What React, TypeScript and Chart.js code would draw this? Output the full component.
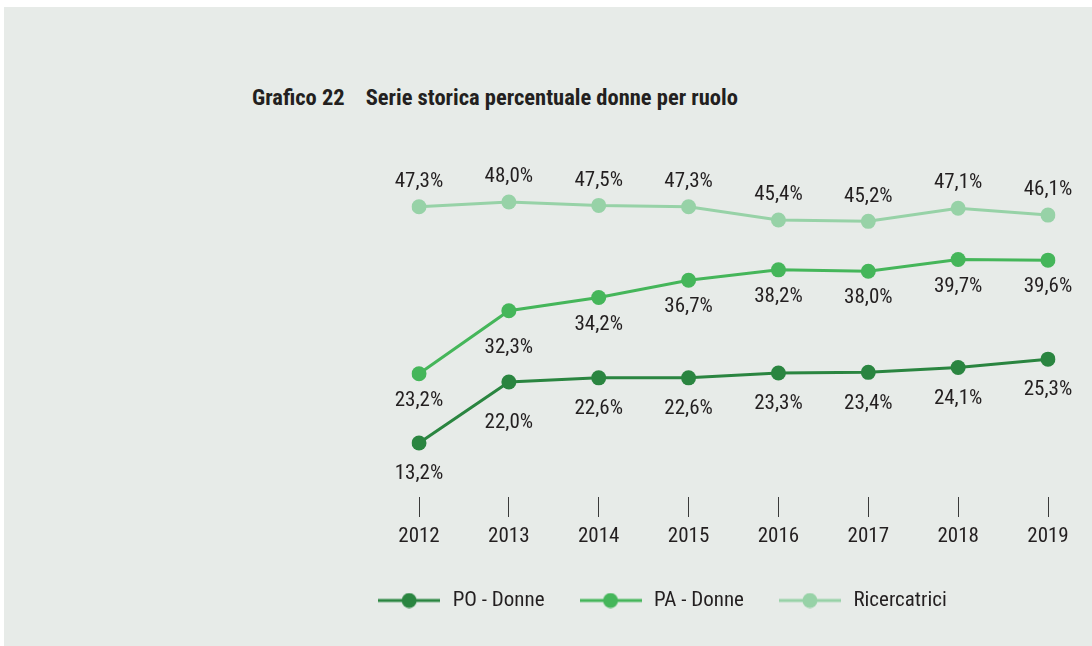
import React, { useEffect, useRef } from "react";
import { Chart, registerables } from "chart.js";

Chart.register(...registerables);

const years = ["2012", "2013", "2014", "2015", "2016", "2017", "2018", "2019"];
const poDonne = [13.2, 22.0, 22.6, 22.6, 23.3, 23.4, 24.1, 25.3];
const paDonne = [23.2, 32.3, 34.2, 36.7, 38.2, 38.0, 39.7, 39.6];
const ricercatrici = [47.3, 48.0, 47.5, 47.3, 45.4, 45.2, 47.1, 46.1];
const seriesNames = ["PO - Donne", "PA - Donne", "Ricercatrici"];

const COLORS = ["#2a8540", "#45b65a", "#97d2a7"];
const LABEL_OFFSETS = [31, 27, -25];
const FAMILY = "Roboto, 'DejaVu Sans Condensed', sans-serif";
const STRETCH = "semi-condensed";
const TEXT = "#231f20";
const FS = 21;

function fmt(v: number) {
  return v.toFixed(1).replace(".", ",") + "%";
}

function makeLegendImg(color: string) {
  const c = document.createElement("canvas");
  c.width = 62;
  c.height = 16;
  const ctx = c.getContext("2d")!;
  ctx.strokeStyle = color;
  ctx.lineWidth = 3;
  ctx.beginPath();
  ctx.moveTo(0, 8);
  ctx.lineTo(62, 8);
  ctx.stroke();
  ctx.fillStyle = color;
  ctx.beginPath();
  ctx.arc(31, 8, 7.5, 0, Math.PI * 2);
  ctx.fill();
  return c;
}

const dataLabelPlugin = {
  id: "dataLabels",
  afterDatasetsDraw(chart: any) {
    const ctx = chart.ctx;
    ctx.save();
    ctx.font = `${STRETCH} ${FS}px ${FAMILY}`;
    ctx.fillStyle = TEXT;
    ctx.textAlign = "center";
    ctx.textBaseline = "middle";
    chart.data.datasets.forEach((ds: any, i: number) => {
      const meta = chart.getDatasetMeta(i);
      meta.data.forEach((pt: any, j: number) => {
        let off = ds.labelOffset;
        // push labels below the line further down when the incoming segment rises steeply
        if (off > 0 && j > 0 && ds.data[j] - ds.data[j - 1] > 5) off += 10;
        ctx.fillText(fmt(ds.data[j]), pt.x, pt.y + off);
      });
    });
    ctx.restore();
  },
};

export default function App() {
  const ref = useRef<HTMLCanvasElement>(null);

  useEffect(() => {
    const imgs = COLORS.map(makeLegendImg);
    const series = [poDonne, paDonne, ricercatrici];
    const font = { family: FAMILY, size: FS, weight: STRETCH };
    const chart = new Chart(ref.current!, {
      type: "line",
      data: {
        labels: years,
        datasets: series.map((d, i) => ({
          label: seriesNames[i],
          data: d,
          borderColor: COLORS[i],
          backgroundColor: COLORS[i],
          pointBackgroundColor: COLORS[i],
          pointBorderWidth: 0,
          pointRadius: 7.5,
          borderWidth: 3,
          tension: 0,
          labelOffset: LABEL_OFFSETS[i],
        })) as any,
      },
      options: {
        responsive: false,
        animation: false,
        layout: { padding: { left: 275, right: 44, top: 150, bottom: 25 } },
        scales: {
          x: {
            offset: false,
            grid: {
              display: true,
              drawOnChartArea: false,
              drawTicks: true,
              tickLength: 20,
              tickColor: "#3a3a3a",
              tickWidth: 1,
              offset: false,
            },
            border: { display: false },
            ticks: { color: TEXT, font, padding: 7, maxRotation: 0 },
            afterFit: (s: any) => {
              s.height = 60;
            },
          },
          y: {
            min: 5.4,
            max: 55.5,
            grid: { display: false },
            border: { display: false },
            ticks: { display: false },
            afterFit: (s: any) => {
              s.width = 144;
            },
          },
        },
        plugins: {
          title: { display: false },
          tooltip: { enabled: false },
          legend: {
            position: "bottom",
            labels: {
              usePointStyle: true,
              pointStyleWidth: 66,
              padding: 33,
              color: TEXT,
              font,
              generateLabels: (ch: any) => {
                const items = Chart.defaults.plugins.legend.labels.generateLabels(ch);
                return items.map((it: any, i: number) => ({ ...it, pointStyle: imgs[i] }));
              },
            },
          },
        },
      } as any,
      plugins: [dataLabelPlugin],
    });
    return () => chart.destroy();
  }, []);

  return (
    <div style={{ position: "absolute", left: 0, top: 0, width: 1092, height: 646, background: "#ffffff" }}>
      <div style={{ position: "absolute", left: 4, top: 7, width: 1088, height: 639, background: "#e7ebe8" }} />
      <div
        style={{
          position: "absolute",
          left: 252,
          top: 85,
          fontFamily: FAMILY,
          fontStretch: STRETCH,
          fontWeight: "bold",
          fontSize: 22.5,
          lineHeight: "24px",
          color: TEXT,
          whiteSpace: "pre",
        }}
      >
        <span>Grafico 22</span>
        <span style={{ marginLeft: 21 }}>Serie storica percentuale donne per ruolo</span>
      </div>
      <canvas ref={ref} width={1092} height={646} style={{ position: "absolute", left: 0, top: 0 }} />
    </div>
  );
}
